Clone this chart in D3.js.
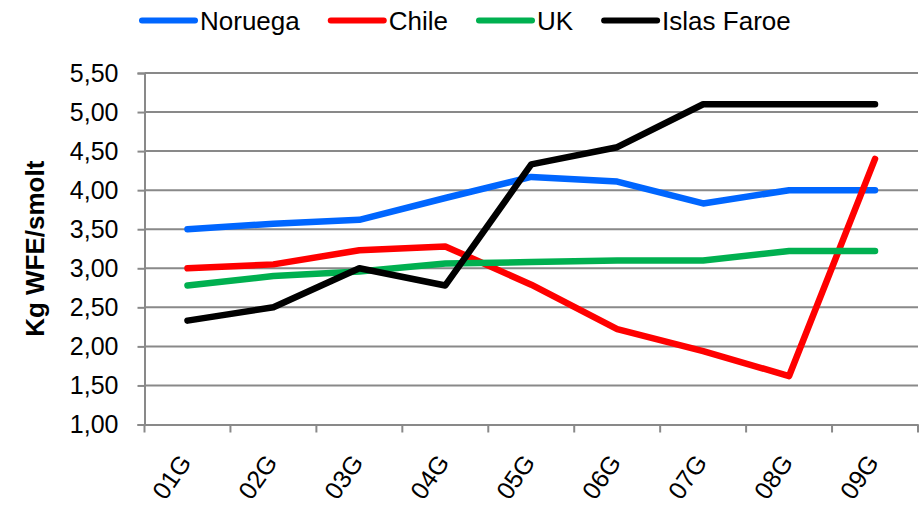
<!DOCTYPE html>
<html><head><meta charset="utf-8">
<script src="https://cdn.jsdelivr.net/npm/d3@7"></script>
<style>
html,body{margin:0;padding:0;background:#fff;}
svg{display:block;font-family:"Liberation Sans",Arial,sans-serif;}
</style></head>
<body>
<svg id="chart" width="919" height="506"></svg>
<script>
const categories = ["01G","02G","03G","04G","05G","06G","07G","08G","09G"];
const seriesNames = ["Noruega","Chile","UK","Islas Faroe"];
const noruega = [3.50,3.57,3.62,3.90,4.17,4.11,3.83,4.00,4.00];
const chile   = [3.00,3.05,3.23,3.28,2.79,2.22,1.94,1.62,4.40];
const uk      = [2.78,2.90,2.96,3.06,3.08,3.10,3.10,3.22,3.22];
const faroe   = [2.33,2.50,3.00,2.78,4.33,4.55,5.10,5.10,5.10];
const yTicks  = [1.00,1.50,2.00,2.50,3.00,3.50,4.00,4.50,5.00,5.50];
const colors  = ["#0066FF","#FF0000","#00B050","#000000"];
const yTitle  = "Kg WFE/smolt";

(function(){
const series = [noruega, chile, uk, faroe].map((v,i)=>({name:seriesNames[i], values:v, color:colors[i]}));

const svg = d3.select("#chart");
const pLeft = 144.5, pRight = 918, pTop = 73, pBottom = 424.5;
const gridColor = "#898989";

const x = d3.scaleBand().domain(categories).range([pLeft, pRight]);
const y = d3.scaleLinear().domain([1, 5.5]).range([pBottom, pTop]);
const fmt = v => d3.format(".2f")(v).replace(".", ",");

// gridlines
svg.append("g").selectAll("line").data(yTicks.filter(t=>t>1)).join("line")
  .attr("x1", pLeft).attr("x2", pRight)
  .attr("y1", d=>y(d)).attr("y2", d=>y(d))
  .attr("stroke", gridColor).attr("stroke-width", 2);

// y axis
const yAxis = svg.append("g").attr("transform", `translate(${pLeft},0)`)
  .call(d3.axisLeft(y).tickValues(yTicks).tickFormat(fmt).tickSize(7).tickPadding(19));
yAxis.select(".domain").attr("stroke", gridColor).attr("stroke-width", 2);
yAxis.selectAll(".tick line").attr("stroke", gridColor).attr("stroke-width", 2);
yAxis.selectAll(".tick text").attr("font-size", 25).attr("fill", "#000")
  .attr("font-family", "Liberation Sans, Arial, sans-serif");

// x axis
const xAxis = svg.append("g").attr("transform", `translate(0,${pBottom})`)
  .call(d3.axisBottom(x).tickSize(0).tickFormat(""));
xAxis.select(".domain").attr("stroke", gridColor).attr("stroke-width", 2);
const bounds = categories.map(c => x(c)).concat([pRight]);
svg.append("g").selectAll("line").data(bounds).join("line")
  .attr("x1", d=>d).attr("x2", d=>d)
  .attr("y1", pBottom).attr("y2", pBottom + 8)
  .attr("stroke", gridColor).attr("stroke-width", 2);
svg.append("g").selectAll("text").data(categories).join("text")
  .attr("transform", d => `translate(${x(d) + x.bandwidth()/2 + 5},${pBottom + 38}) rotate(-55)`)
  .attr("text-anchor", "end")
  .attr("font-size", 25)
  .attr("fill", "#000")
  .text(d => d);

// y title
svg.append("text")
  .attr("transform", `translate(44,${(pTop+pBottom)/2}) rotate(-90)`)
  .attr("text-anchor", "middle")
  .attr("font-size", 26).attr("font-weight", "bold")
  .text(yTitle);

// lines
const line = d3.line()
  .x((d,i) => x(categories[i]) + x.bandwidth()/2)
  .y(d => y(d));
svg.append("g").selectAll("path").data(series).join("path")
  .attr("d", d => line(d.values))
  .attr("fill", "none")
  .attr("stroke", d => d.color)
  .attr("stroke-width", 6.5)
  .attr("stroke-linecap", "round")
  .attr("stroke-linejoin", "round");

// legend
const legend = svg.append("g");
let lx = 142;
const ly = 20.5;
series.forEach(s => {
  legend.append("line").attr("x1", lx).attr("x2", lx + 53).attr("y1", ly).attr("y2", ly)
    .attr("stroke", s.color).attr("stroke-width", 6).attr("stroke-linecap", "round");
  const t = legend.append("text").attr("x", lx + 58).attr("y", ly + 9)
    .attr("font-size", 26).attr("fill", "#000").text(s.name);
  const w = t.node().getComputedTextLength();
  lx = lx + 58 + w + 31;
});
})();
</script>
</body></html>
